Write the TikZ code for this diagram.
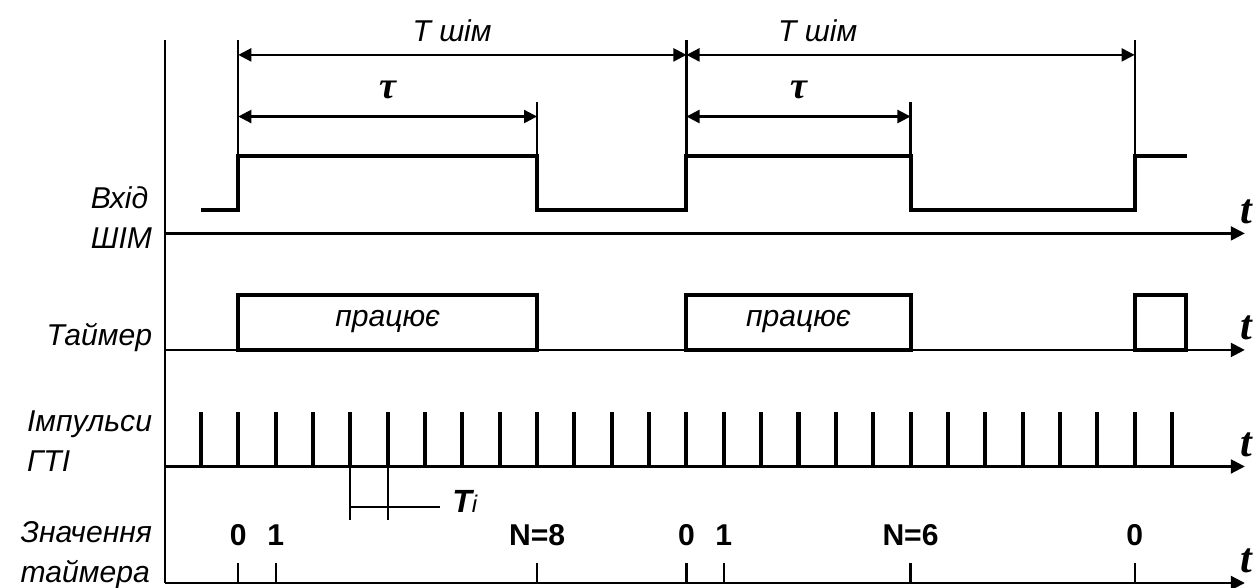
\documentclass[tikz,border=0pt]{standalone}
\usepackage{fontspec}
\setmainfont{Liberation Sans}
\newfontfamily\policet{Liberation Serif}
\usetikzlibrary{arrows.meta}

\newcommand\taille{\fontsize{15}{20}\selectfont}

\tikzset{
  fin/.style={line width=1.1pt},
  signal/.style={line width=2pt},
  axe/.style={fin,-{Triangle[length=7pt,width=7pt]}},
  cote/.style={fin,{Triangle[length=6.5pt,width=6.5pt]}-{Triangle[length=6.5pt,width=6.5pt]}},
  lbl/.style={font=\taille\itshape,align=left,anchor=east,inner sep=0pt},
  valeur/.style={font=\taille\bfseries,inner sep=0pt},
  temps/.style={font=\policet\fontsize{21}{21}\selectfont\bfseries\itshape,inner sep=0pt}
}

\begin{document}
\begin{tikzpicture}  % ------ Chronogrammes MLI et minuterie -----------
      [x={(0.654cm,0cm)},y={(0cm,0.654cm)},scale=1]
    \useasboundingbox[fill=white] (-5.38,-0.13) rectangle (28.25,15.61);

    \coordinate (O) at (-0.96,0);
    \coordinate (H) at (-0.96,14.54);

    % axes
    \draw[fin] (H) -- (O);
    \foreach \y/\nom in {0/a, 3.12/b, 6.24/c, 9.36/d} {
      \draw[axe] (-0.96,\y) -- (27.95,\y);
      \node[temps] (t\nom) at (27.98,\y+0.58) {t};
    }

    % signal MLI
    \draw[signal] (0,10) -- (1,10) -- (1,11.42) -- (9,11.42) -- (9,10)
       -- (13,10) -- (13,11.42) -- (19,11.42) -- (19,10)
       -- (25,10) -- (25,11.42) -- (26.4,11.42);

    % cotes
    \draw[fin] (1,11.42) -- (1,14.54);
    \draw[fin] (13,11.42) -- (13,14.54);
    \draw[fin] (25,11.42) -- (25,14.54);
    \draw[fin] (9,11.42) -- (9,12.88);
    \draw[fin] (19,11.42) -- (19,12.88);
    \draw[cote] (1,14.14) -- node (T1) [pos=0.477, above=6pt, inner sep=0pt,
       font=\taille\itshape] {T шім} (13,14.14);
    \draw[cote] (13,14.14) -- node (T2) [pos=0.293, above=6pt, inner sep=0pt,
       font=\taille\itshape] {T шім} (25,14.14);
    \draw[cote] (1,12.49) -- node (tau1) [midway, above=8pt, inner sep=0pt,
       font=\policet\fontsize{19}{19}\selectfont\bfseries\itshape] {τ} (9,12.49);
    \draw[cote] (13,12.49) -- node (tau2) [midway, above=8pt, inner sep=0pt,
       font=\policet\fontsize{19}{19}\selectfont\bfseries\itshape] {τ} (19,12.49);

    % minuterie
    \draw[signal] (1,6.24) rectangle (9,7.71);
    \draw[signal] (13,6.24) rectangle (19,7.71);
    \draw[signal] (25,6.24) rectangle (26.37,7.71);
    \node[font=\taille\itshape] (m1) at (5,6.99) {працює};
    \node[font=\taille\itshape] (m2) at (16,6.99) {працює};

    % impulsions
    \foreach \k in {0,...,26}
      \draw[signal] (\k,3.12) -- (\k,4.58);
    \draw[fin] (4,3.12) -- (4,1.69);
    \draw[fin] (5,3.12) -- (5,1.69);
    \draw[fin] (4,2.03) -- (6.4,2.03);
    \node[anchor=west, inner sep=0pt] (Ti) at (6.72,2.17)
       {\fontsize{16}{16}\selectfont\bfseries\itshape T\fontsize{12}{12}\selectfont\mdseries i};

    % valeurs
    \foreach \x/\v/\nom in {1/0/v1, 2/1/v2, 9/N=8/v3, 13/0/v4, 14/1/v5, 19/N=6/v6, 25/0/v7} {
      \draw[fin] (\x,0) -- (\x,0.535);
      \node[valeur] (\nom) at (\x,1.29) {\v};
    }

\begin{footnotesize}
    \node[lbl] (entree) at (-1.3,9.78) {Вхід\\ШІМ};
    \node[lbl] (minut) at (-1.3,6.56) {Таймер};
    \node[lbl] (gti) at (-1.3,3.79) {Імпульси\\ГТІ};
    \node[lbl] (val) at (-1.3,0.75) {Значення\\таймера};
\end{footnotesize}
\end{tikzpicture}
\end{document}
